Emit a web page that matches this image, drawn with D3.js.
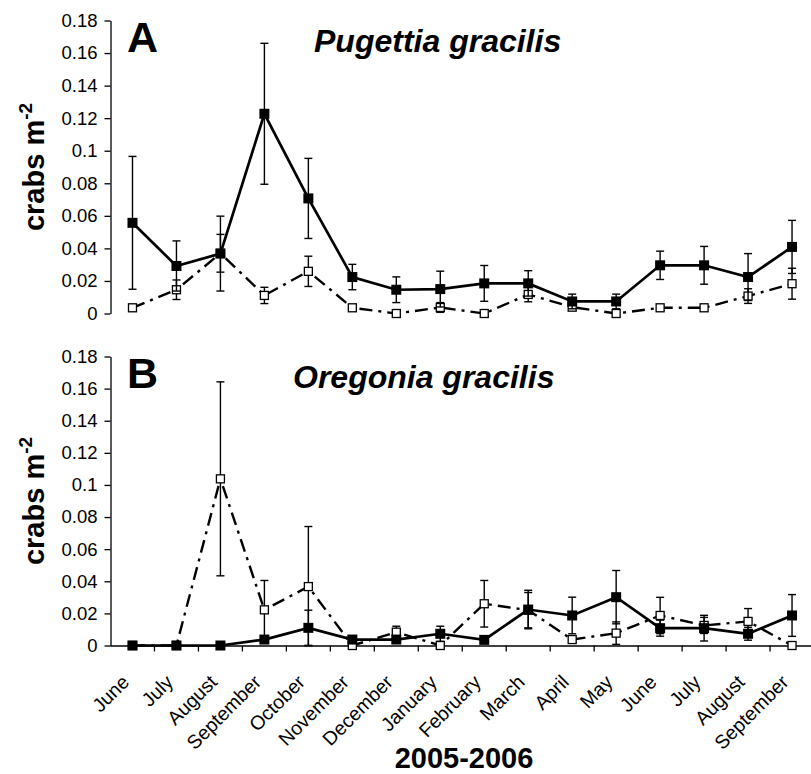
<!DOCTYPE html>
<html>
<head>
<meta charset="utf-8">
<script src="https://cdn.jsdelivr.net/npm/d3@7"></script>
<style>
  body { margin: 0; background: #fff; }
  svg { display: block; }
</style>
</head>
<body>
<div id="chart"></div>
<script>

// months sampled, 2005-2006
let months = ["June", "July", "August", "September", "October", "November", "December",
  "January", "February", "March", "April", "May", "June", "July", "August", "September"];

let yTicks = [0, 0.02, 0.04, 0.06, 0.08, 0.1, 0.12, 0.14, 0.16, 0.18];
let yTickLabels = ["0", "0.02", "0.04", "0.06", "0.08", "0.1", "0.12", "0.14", "0.16", "0.18"];

// Pugettia gracilis
let pugFilled = [0.0557, 0.0292, 0.0368, 0.1227, 0.0707, 0.0224, 0.0146, 0.0150, 0.0185, 0.0185, 0.0074, 0.0074, 0.0296, 0.0296, 0.0224, 0.0409];
let pugFilledErr = [0.0408, 0.0154, 0.0230, 0.0433, 0.0246, 0.0078, 0.0079, 0.0110, 0.0110, 0.0078, 0.0045, 0.0045, 0.0087, 0.0116, 0.0144, 0.0163];
let pugOpen = [0.0035, 0.0146, 0.0370, 0.0111, 0.0259, 0.0035, 0.0000, 0.0037, 0.0000, 0.0117, 0.0039, 0.0000, 0.0035, 0.0035, 0.0107, 0.0183];
let pugOpenErr = [0.0020, 0.0060, 0.0116, 0.0050, 0.0093, 0.0020, 0.0000, 0.0030, 0.0000, 0.0045, 0.0020, 0.0000, 0.0020, 0.0020, 0.0045, 0.0095];

// Oregonia gracilis
let oreFilled = [0, 0, 0, 0.0037, 0.0110, 0.0037, 0.0037, 0.0073, 0.0035, 0.0224, 0.0187, 0.0301, 0.0108, 0.0108, 0.0073, 0.0187];
let oreFilledErr = [0, 0, 0, 0.0020, 0.0110, 0.0010, 0.0010, 0.0047, 0.0010, 0.0120, 0.0114, 0.0166, 0.0050, 0.0080, 0.0040, 0.0130];
let oreOpen = [0, 0, 0.1038, 0.0222, 0.0367, 0, 0.0083, 0, 0.0260, 0.0220, 0.0037, 0.0077, 0.0187, 0.0125, 0.0150, 0];
let oreOpenErr = [0, 0, 0.0604, 0.0183, 0.0374, 0, 0.0037, 0, 0.0145, 0.0110, 0.0020, 0.0070, 0.0113, 0.0050, 0.0080, 0];

let width = 811;
let height = 774;
let font = "'Liberation Sans', Arial, Helvetica, sans-serif";

let svg = d3.select("#chart")
  .append("svg")
  .attr("width", width)
  .attr("height", height);

let x = d3.scaleBand()
  .domain(d3.range(months.length))
  .range([110.5, 110.5 + 16 * 43.97])
  .padding(0);

function cx(i) {
  return x(i) + x.bandwidth() / 2;
}

let yA = d3.scaleLinear().domain([0, 0.18]).range([313.5, 20.5]);
let yB = d3.scaleLinear().domain([0, 0.18]).range([645.5, 356.5]);

function drawPanel(y, filled, filledErr, open, openErr, letter, title, showXAxis) {

  let g = svg.append("g");

  // y axis
  let yAxis = d3.axisLeft(y)
    .tickValues(yTicks)
    .tickFormat(function(d, i) { return yTickLabels[i]; })
    .tickSize(6)
    .tickSizeOuter(0);

  let ya = g.append("g")
    .attr("transform", "translate(110.5,0)")
    .call(yAxis);
  ya.select(".domain").attr("stroke", "#000").attr("stroke-width", 1.3);
  ya.selectAll(".tick line").attr("stroke", "#000").attr("stroke-width", 1.3);
  ya.selectAll("text")
    .attr("x", -13)
    .style("font-family", font)
    .style("font-size", "18.5px")
    .attr("fill", "#000");

  if (showXAxis) {
    let xAxis = d3.axisBottom(x)
      .tickValues(d3.range(1, months.length))
      .tickSize(6)
      .tickSizeOuter(0)
      .tickFormat("");
    let xa = g.append("g")
      .attr("transform", "translate(0," + y(0) + ")")
      .call(xAxis);
    xa.select(".domain").attr("stroke", "#000").attr("stroke-width", 1.3).attr("d", "M110.5,0.5H811");
    xa.selectAll(".tick line")
      .attr("stroke", "#000")
      .attr("stroke-width", 1.3)
      .attr("transform", "translate(" + (-x.bandwidth() / 2) + ",0)");

    // month labels
    g.selectAll(".mlabel")
      .data(months)
      .enter()
      .append("text")
      .attr("class", "mlabel")
      .attr("transform", function(d, i) {
        return "translate(" + (cx(i) - 7) + "," + (y(0) + 33) + ") rotate(-45)";
      })
      .attr("text-anchor", "end")
      .attr("dy", "0.35em")
      .style("font-family", font)
      .style("font-size", "19.5px")
      .text(function(d) { return d; });
  }

  let lineF = d3.line()
    .x(function(d, i) { return cx(i); })
    .y(function(d) { return y(d); });

  // open series first (dash-dot)
  let oData = open.map(function(v, i) { return { i: i, v: v, e: openErr[i] }; });
  let fData = filled.map(function(v, i) { return { i: i, v: v, e: filledErr[i] }; });

  function errorBars(data) {
    let eb = g.append("g")
      .attr("stroke", "#000")
      .attr("stroke-width", 1.4);
    let sel = eb.selectAll("g")
      .data(data.filter(function(d) { return d.e > 0; }))
      .enter()
      .append("g");
    sel.append("line")
      .attr("x1", function(d) { return cx(d.i); })
      .attr("x2", function(d) { return cx(d.i); })
      .attr("y1", function(d) { return y(d.v + d.e); })
      .attr("y2", function(d) { return y(Math.max(0, d.v - d.e)); });
    sel.append("line")
      .attr("x1", function(d) { return cx(d.i) - 4; })
      .attr("x2", function(d) { return cx(d.i) + 4; })
      .attr("y1", function(d) { return y(d.v + d.e); })
      .attr("y2", function(d) { return y(d.v + d.e); });
    sel.append("line")
      .attr("x1", function(d) { return cx(d.i) - 4; })
      .attr("x2", function(d) { return cx(d.i) + 4; })
      .attr("y1", function(d) { return y(Math.max(0, d.v - d.e)); })
      .attr("y2", function(d) { return y(Math.max(0, d.v - d.e)); });
  }

  errorBars(oData);

  g.append("path")
    .datum(open)
    .attr("d", lineF)
    .attr("fill", "none")
    .attr("stroke", "#000")
    .attr("stroke-width", 2.4)
    .attr("stroke-dasharray", "13,6,3,6");

  g.selectAll(".osq")
    .data(oData)
    .enter()
    .append("rect")
    .attr("class", "osq")
    .attr("x", function(d) { return cx(d.i) - 4; })
    .attr("y", function(d) { return y(d.v) - 4; })
    .attr("width", 8)
    .attr("height", 8)
    .attr("fill", "#fff")
    .attr("stroke", "#000")
    .attr("stroke-width", 1.3);

  errorBars(fData);

  g.append("path")
    .datum(filled)
    .attr("d", lineF)
    .attr("fill", "none")
    .attr("stroke", "#000")
    .attr("stroke-width", 2.7);

  g.selectAll(".fsq")
    .data(fData)
    .enter()
    .append("rect")
    .attr("class", "fsq")
    .attr("x", function(d) { return cx(d.i) - 5; })
    .attr("y", function(d) { return y(d.v) - 5; })
    .attr("width", 10)
    .attr("height", 10)
    .attr("fill", "#000");

  // panel letter + species
  g.append("text")
    .attr("x", 127)
    .attr("y", y(0.18) + 31)
    .style("font-family", font)
    .style("font-weight", "bold")
    .style("font-size", "43px")
    .text(letter);

  g.append("text")
    .attr("x", letter == "A" ? 314 : 293)
    .attr("y", y(0.18) + 31)
    .style("font-family", font)
    .style("font-weight", "bold")
    .style("font-style", "italic")
    .style("font-size", "32px")
    .text(title);

  // y label
  let yl = g.append("text")
    .attr("transform", "translate(44," + ((y(0) + y(0.18)) / 2) + ") rotate(-90)")
    .attr("text-anchor", "middle")
    .style("font-family", font)
    .style("font-weight", "bold")
    .style("font-size", "29px");
  yl.append("tspan").text("crabs m");
  yl.append("tspan").attr("dy", -12).style("font-size", "19px").text("-2");
}

drawPanel(yA, pugFilled, pugFilledErr, pugOpen, pugOpenErr, "A", "Pugettia gracilis", false);
drawPanel(yB, oreFilled, oreFilledErr, oreOpen, oreOpenErr, "B", "Oregonia gracilis", true);

svg.append("text")
  .attr("x", 464)
  .attr("y", 768)
  .attr("text-anchor", "middle")
  .style("font-family", font)
  .style("font-weight", "bold")
  .style("font-size", "29px")
  .text("2005-2006");

</script>
</body>
</html>
